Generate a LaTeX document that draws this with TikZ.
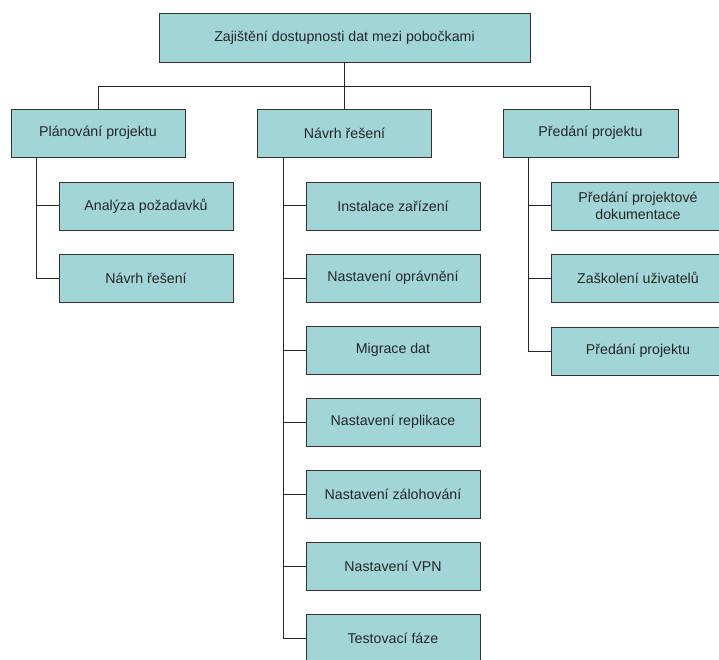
\documentclass[tikz,border=0pt]{standalone}
\usepackage{fontspec}
\setmainfont{Liberation Sans}
\usepackage{tikz}

\definecolor{boxfill}{RGB}{162,213,216}
\definecolor{edgegray}{RGB}{51,51,51}

\begin{document}
\begin{tikzpicture}[x=1pt, y=-1pt, >=stealth,
    wbs/.style={draw=edgegray, fill=boxfill, line width=0.9pt,
        minimum width=174pt, minimum height=48pt, align=center,
        font=\fontsize{14.2}{17}\selectfont, text=black!85, inner sep=2pt},
    link/.style={draw=black!85, line width=1pt}]

\useasboundingbox (0,0) rectangle (719,660);
\clip (0,0) rectangle (719,660);

% root
\node[wbs, minimum width=371pt, minimum height=49pt] (root) at (344.5,37.5)
    {Zajištění dostupnosti dat mezi pobočkami};

% first level
\node[wbs] (plan) at (98,133) {Plánování projektu};
\node[wbs] (navrh) at (344.5,133) {Návrh řešení};
\node[wbs, minimum width=175pt] (predani) at (590.5,133) {Předání projektu};

% planning tasks
\node[wbs] (p1) at (146,206) {Analýza požadavků};
\node[wbs] (p2) at (146,278) {Návrh řešení};

% design tasks
\node[wbs] (n1) at (393,206) {Instalace zařízení};
\node[wbs] (n2) at (393,278) {Nastavení oprávnění};
\node[wbs] (n3) at (393,350) {Migrace dat};
\node[wbs] (n4) at (393,422) {Nastavení replikace};
\node[wbs] (n5) at (393,494) {Nastavení zálohování};
\node[wbs] (n6) at (393,566) {Nastavení VPN};
\node[wbs] (n7) at (393,638) {Testovací fáze};

% handover tasks
\node[wbs] (h1) at (638,206) {Předání projektové\\dokumentace};
\node[wbs] (h2) at (638,278) {Zaškolení uživatelů};
\node[wbs] (h3) at (638,351) {Předání projektu};

% bus below the root
\draw[link] (root.south) -- ++(0,24) coordinate (bus);
\draw[link] (plan.north) |- (bus);
\draw[link] (predani.north) |- (bus);
\draw[link] (navrh.north) -- (bus);

% branches to the tasks
\coordinate (ps) at ([xshift=-62pt]plan.south);
\coordinate (ns) at ([xshift=-61.5pt]navrh.south);
\coordinate (hs) at ([xshift=-62.5pt]predani.south);

\foreach \t in {p1,p2}
    \draw[link] (ps) |- (\t.west);
\foreach \t in {n1,n2,n3,n4,n5,n6,n7}
    \draw[link] (ns) |- (\t.west);
\foreach \t in {h1,h2,h3}
    \draw[link] (hs) |- (\t.west);

\end{tikzpicture}
\end{document}
